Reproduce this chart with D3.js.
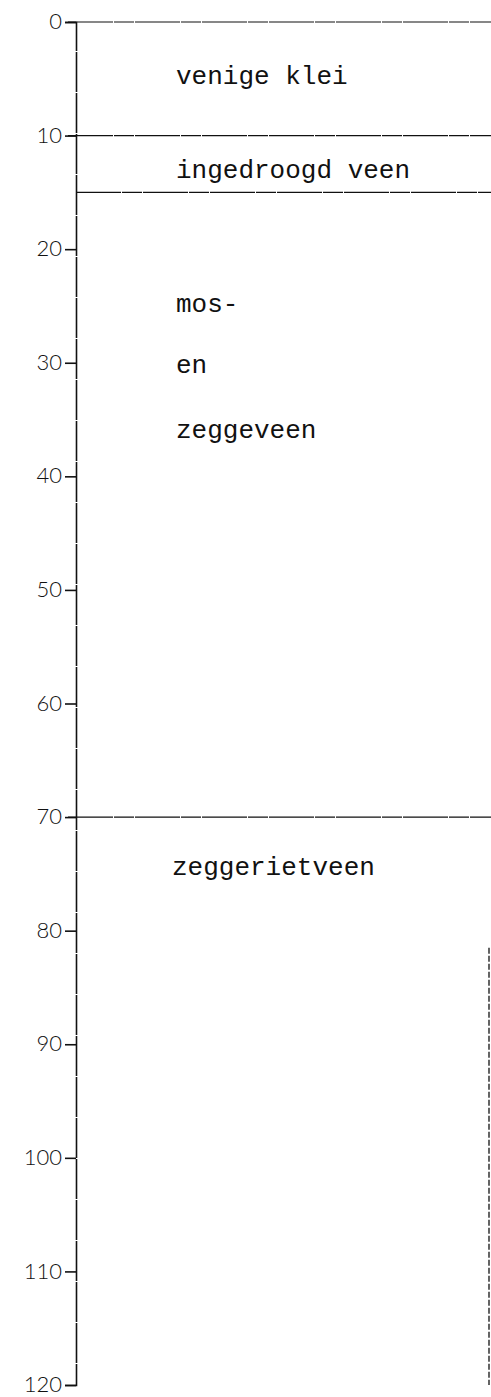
<!DOCTYPE html>
<html>
<head>
<meta charset="utf-8">
<script src="https://cdn.jsdelivr.net/npm/d3@7"></script>
<style>
  html, body { margin: 0; padding: 0; background: #fff; }
  svg { display: block; }
</style>
</head>
<body>
<script>
// General constants
const WIDTH = 491;
const HEIGHT = 1397;

// Depth axis (cm)
const depthTicks = [0, 10, 20, 30, 40, 50, 60, 70, 80, 90, 100, 110, 120];
// Layer boundaries (depth of top of each layer)
const boundaries = [0, 10, 15, 70];
// Layer labels, one line each, with the depth of the text baseline
const labelTexts = ["venige klei", "ingedroogd veen", "mos-", "en", "zeggeveen", "zeggerietveen"];
const labelDepths = [5.5, 13.7, 25.5, 30.9, 36.6, 75.1];

const axisX = 76;

var y = d3.scaleLinear()
          .domain([0, 120])
          .range([22, 1385]);

const svg = d3.select("body")
              .append("svg")
              .attr("width", WIDTH)
              .attr("height", HEIGHT);

/** Vertical depth axis with ticks pointing left */
var axis = d3.axisLeft(y)
             .tickValues(depthTicks)
             .tickSize(11)
             .tickPadding(3)
             .tickFormat(d3.format("d"));

var g = svg.append("g")
           .attr("transform", `translate(${axisX},0)`)
           .call(axis);

g.select(".domain")
 .attr("stroke", "#111")
 .attr("stroke-width", 1.6)
 .attr("stroke-dasharray", "40,1");
g.selectAll(".tick line")
 .attr("stroke", "#111")
 .attr("stroke-width", 1.6);
g.selectAll(".tick text")
 .attr("fill", "#111")
 .attr("dy", "0.3em")
 .style("font-family", "Lato, 'Noto Sans', sans-serif")
 .style("font-size", "22px")
 .style("font-weight", 300);

/** Horizontal layer boundaries, running to the right edge */
svg.selectAll("line.boundary")
   .data(boundaries)
   .enter()
   .append("line")
   .attr("class", "boundary")
   .attr("x1", d => d === 15 ? axisX : axisX - 8)
   .attr("x2", WIDTH)
   .attr("y1", d => y(d))
   .attr("y2", d => y(d))
   .attr("stroke", "#111")
   .attr("stroke-width", 1.2)
   .attr("stroke-dasharray", "45,1,20,1");

/** Short right edge of the profile near the bottom */
svg.append("line")
   .attr("x1", WIDTH - 2)
   .attr("x2", WIDTH - 2)
   .attr("y1", y(81.5))
   .attr("y2", y(120))
   .attr("stroke", "#111")
   .attr("stroke-width", 1.3)
   .attr("stroke-dasharray", "6,2");

/** Layer names, typewriter style */
svg.selectAll("text.layer")
   .data(labelTexts)
   .enter()
   .append("text")
   .attr("class", "layer")
   .attr("x", (d, i) => i === 5 ? 172 : 176)
   .attr("y", (d, i) => y(labelDepths[i]))
   .attr("fill", "#111")
   .style("font-family", "'Liberation Mono', 'DejaVu Sans Mono', monospace")
   .style("font-size", "26px")
   .text(d => d);
</script>
</body>
</html>
